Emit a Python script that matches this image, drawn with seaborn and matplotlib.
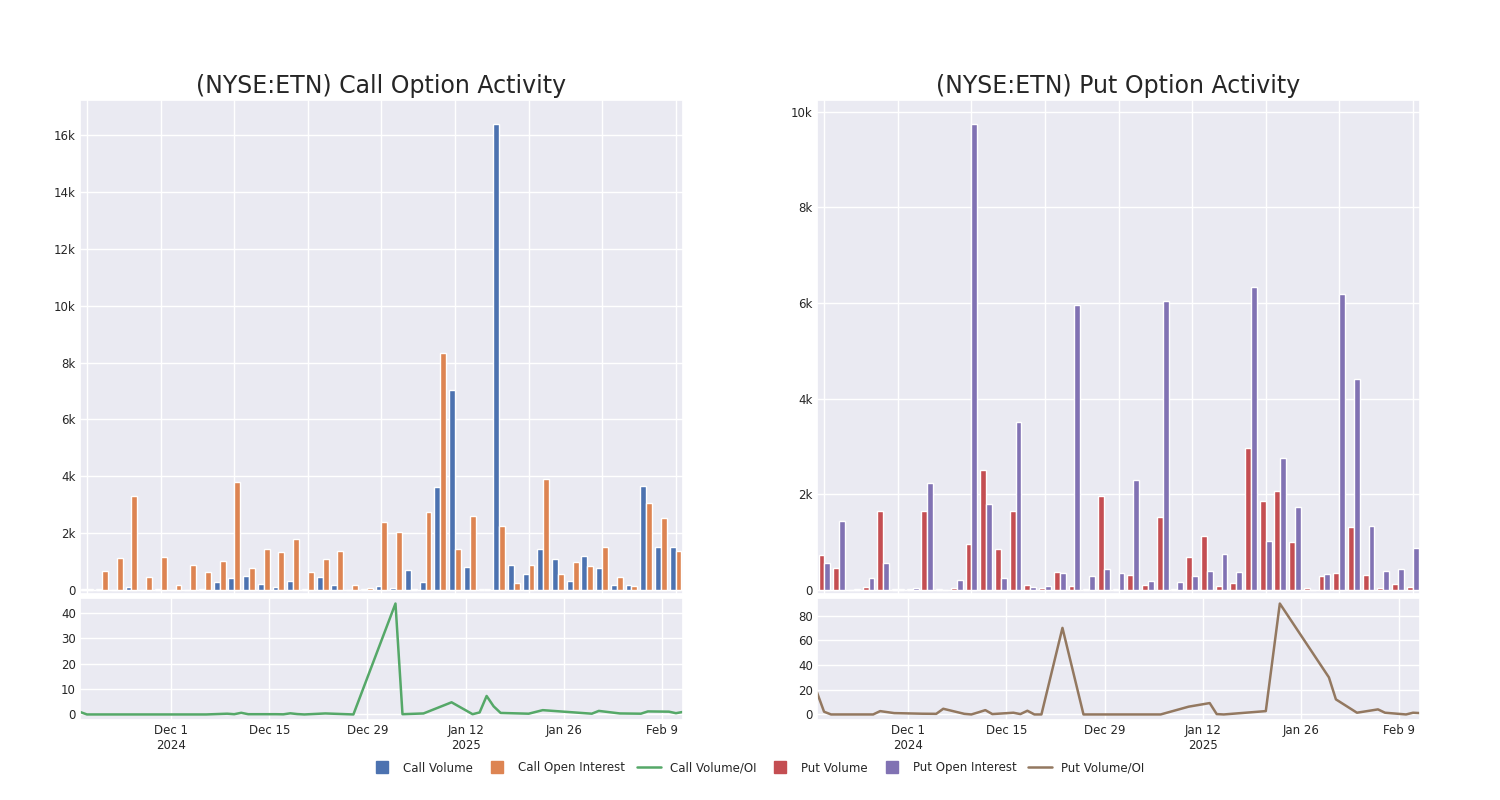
# Call / put option activity for NYSE:ETN: volume + open interest bars, volume/OI lines.

import pandas as pd

import matplotlib
matplotlib.use('Agg')
import matplotlib.pyplot as plt
from matplotlib.lines import Line2D
from matplotlib.ticker import FuncFormatter

import seaborn as sns


dates = ["2024-11-18", "2024-11-19", "2024-11-20", "2024-11-26", "2024-11-27",
         "2024-11-29", "2024-12-03", "2024-12-05", "2024-12-06", "2024-12-09",
         "2024-12-10", "2024-12-11", "2024-12-12", "2024-12-13", "2024-12-16",
         "2024-12-17", "2024-12-18", "2024-12-19", "2024-12-20", "2024-12-23",
         "2024-12-26", "2024-12-27", "2025-01-02", "2025-01-03", "2025-01-06",
         "2025-01-10", "2025-01-13", "2025-01-14", "2025-01-15", "2025-01-16",
         "2025-01-17", "2025-01-21", "2025-01-23", "2025-01-30", "2025-01-31",
         "2025-02-03", "2025-02-06", "2025-02-07", "2025-02-10", "2025-02-11",
         "2025-02-12"]

call_volume = [40, 20, 5, 90, 0, 20, 5, 0, 10, 290, 400, 470, 200, 100, 320, 10,
               460, 150, 0, 20, 140, 50, 680, 260, 3620, 7050, 810, 10, 16400,
               870, 540, 1430, 1070, 320, 1200, 770, 150, 150, 3640, 1510, 1520]
call_oi = [20, 650, 1120, 3300, 460, 1140, 150, 880, 610, 1010, 3810, 760, 1450,
           1340, 1790, 610, 1080, 1350, 180, 60, 2400, 2020, 15, 2730, 8350, 1430,
           2600, 10, 2230, 230, 860, 3890, 570, 970, 820, 1510, 450, 120, 3070,
           2530, 1380]
call_ratio = [1.0, 0, 0, 0, 0, 0, 0, 0, 0, 0.3, 0.1, 0.65, 0.1, 0.1, 0.1, 0.05,
              0.45, 0.15, 0, 0.4, 0.1, 0, 43.8, 0.1, 0.4, 4.8, 0.1, 0.8, 7.3, 3.2,
              0.6, 0.3, 1.7, 0.3, 1.4, 0.4, 0.3, 1.2, 1.1, 0.5, 1.0]

put_volume = [730, 460, 0, 60, 1640, 5, 20, 1640, 5, 30, 950, 2500, 850, 1640, 100,
              30, 380, 70, 5, 1960, 5, 310, 90, 1520, 10, 680, 1120, 80, 150, 2970,
              1850, 2060, 1000, 40, 280, 340, 1320, 310, 30, 120, 50]
put_oi = [560, 1440, 10, 240, 560, 5, 40, 2230, 0, 200, 9750, 1790, 240, 3510, 50,
          70, 340, 5960, 290, 430, 360, 2300, 180, 6050, 160, 290, 400, 740, 370,
          6330, 1010, 2750, 1740, 0, 330, 6190, 4410, 1340, 390, 430, 880]
put_ratio = [17.7, 2.2, 0, 0, 2.7, 1.1, 0.6, 0.5, 4.6, 0.5, 0, 1.7, 3.5, 0.3, 1.4,
             0.3, 3.0, 0, 0, 70, 0, 0, 0, 0, 0, 6.3, 9.2, 0.3, 0, 0.45, 0.9, 2.7,
             89.7, 30, 12.2, 1.4, 4.1, 1.4, 0, 1.4, 1.1]

sns.set_theme(style="darkgrid")
plt.rcParams['font.family'] = ['DejaVu Sans']

deep = sns.color_palette("deep")
names = ["Call Volume", "Call Open Interest", "Call Volume/OI",
         "Put Volume", "Put Open Interest", "Put Volume/OI"]
colors = dict(zip(names, deep[:6]))

fig = plt.figure(figsize=(15, 8), dpi=100)
FS = 8.5


def k_fmt(v, pos):
    return "0" if v == 0 else f"{v / 1000:g}k"


def date_fmt(ticks):
    out, prev_year = [], None
    for d in ticks:
        lab = f"{d:%b} {d.day}"
        if d.year != prev_year:
            lab += f"\n{d.year}"
            prev_year = d.year
        out.append(lab)
    return out


def panel(left, title, vol, oi, ratio, keys, ylim_bar):
    ax = fig.add_axes([left, 0.2575, 0.402, 0.6175])
    axl = fig.add_axes([left, 0.1, 0.402, 0.1525])

    df = pd.DataFrame({"date": dates, keys[0]: vol, keys[1]: oi})
    df = df.melt("date", var_name="series", value_name="value")
    sns.barplot(data=df, x="date", y="value", hue="series", order=dates,
                hue_order=keys[:2], palette=colors, saturation=1,
                legend=False, ax=ax)
    ax.set_xlim(-0.5, len(dates) - 0.5)
    ax.set_xticks(range(0, len(dates), 5))
    ax.set_xticklabels([])
    ax.xaxis.grid(True)
    ax.set_axisbelow(True)
    ax.set_ylim(*ylim_bar)
    ax.yaxis.set_major_formatter(FuncFormatter(k_fmt))
    ax.tick_params(labelsize=FS, length=0, pad=3)
    ax.set_xlabel("")
    ax.set_ylabel("")
    ax.set_title(title, fontsize=17, pad=5)

    x = pd.to_datetime(dates)
    sns.lineplot(x=x, y=ratio, color=colors[keys[2]], linewidth=1.8, ax=axl)
    axl.set_xlim(x.min(), x.max())
    ticks = pd.date_range("2024-12-01", "2025-02-09", freq="14D")
    axl.set_xticks(ticks)
    axl.set_xticklabels(date_fmt(ticks))
    axl.tick_params(labelsize=FS, length=0, pad=3)
    axl.set_xlabel("")
    axl.set_ylabel("")


panel(0.0533, "(NYSE:ETN) Call Option Activity", call_volume, call_oi, call_ratio,
      names[:3], (-150, 17250))
panel(0.5447, "(NYSE:ETN) Put Option Activity", put_volume, put_oi, put_ratio,
      names[3:], (-90, 10250))

handles = []
for n in names:
    if n.endswith("/OI"):
        handles.append(Line2D([], [], color=colors[n], linewidth=1.8))
    else:
        handles.append(Line2D([], [], color=colors[n], marker="s", markersize=9,
                              linestyle="none"))
fig.legend(handles, names, loc="center", bbox_to_anchor=(0.505, 0.04), ncol=6,
           frameon=False, fontsize=FS, handlelength=2.0, columnspacing=1.0)

fig.savefig("out.png", dpi=100)
plt.close()
